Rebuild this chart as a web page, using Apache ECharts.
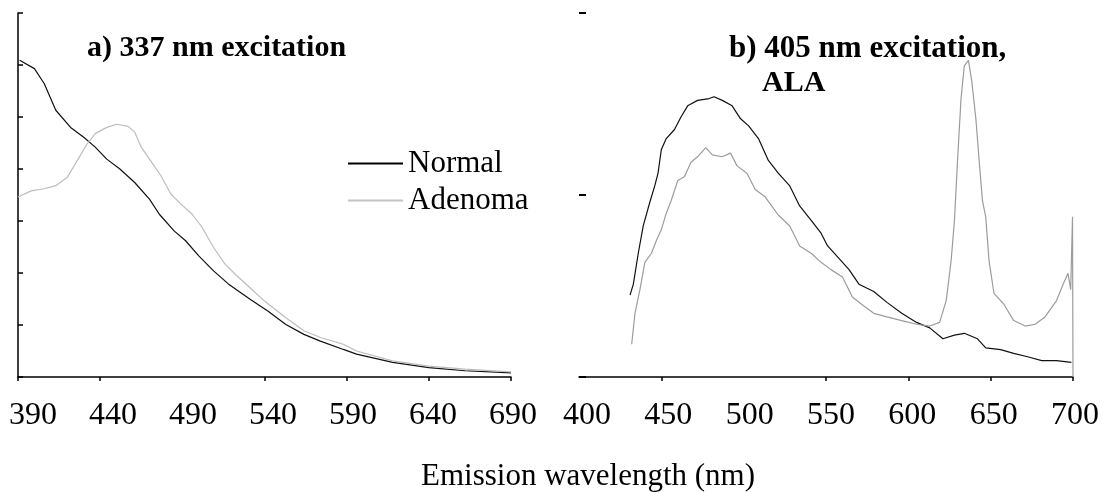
<!DOCTYPE html>
<html>
<head>
<meta charset="utf-8">
<title>Emission spectra</title>
<script src="https://cdn.jsdelivr.net/npm/echarts@6/dist/echarts.min.js"></script>
<style>
  html, body { margin: 0; padding: 0; background: #fff; }
  #boot { width: 1108px; height: 492px; }
</style>
</head>
<body>
<div id="boot"></div>
<script>
// 数据: [波长 nm, 强度]
var normal337 = [
  [391, 6.09], [400, 5.93], [406, 5.64], [413, 5.13], [422, 4.80], [430, 4.61],
  [437, 4.42], [444, 4.19], [452, 4.00], [461, 3.74], [470, 3.42], [476, 3.13],
  [485, 2.81], [492, 2.62], [500, 2.33], [509, 2.04], [518, 1.79], [531, 1.50],
  [542, 1.27], [553, 1.01], [564, 0.82], [574, 0.69], [588, 0.53], [596, 0.44],
  [618, 0.28], [640, 0.18], [662, 0.12], [690, 0.08]
];
var adenoma337 = [
  [390, 3.46], [398, 3.58], [406, 3.62], [413, 3.68], [420, 3.84], [426, 4.16],
  [432, 4.48], [437, 4.68], [444, 4.80], [450, 4.86], [457, 4.82], [461, 4.71],
  [465, 4.42], [472, 4.10], [477, 3.87], [483, 3.52], [489, 3.33], [496, 3.13],
  [502, 2.88], [509, 2.49], [516, 2.17], [522, 1.98], [531, 1.72], [540, 1.46],
  [553, 1.14], [564, 0.89], [574, 0.76], [588, 0.63], [596, 0.50], [618, 0.31],
  [640, 0.21], [662, 0.15], [690, 0.10]
];
var normal405 = [
  [431, 0.45], [433, 0.51], [436, 0.68], [439, 0.83], [443, 0.96], [446, 1.05],
  [448, 1.12], [450, 1.25], [453, 1.31], [458, 1.36], [462, 1.43], [466, 1.49],
  [472, 1.52], [479, 1.53], [482, 1.54], [487, 1.52], [493, 1.49], [498, 1.42],
  [503, 1.38], [509, 1.31], [515, 1.19], [521, 1.12], [528, 1.05], [534, 0.94],
  [541, 0.86], [547, 0.79], [551, 0.72], [558, 0.65], [564, 0.59], [570, 0.51],
  [579, 0.47], [587, 0.41], [596, 0.35], [605, 0.30], [613, 0.27], [621, 0.21],
  [628, 0.23], [634, 0.24], [642, 0.21], [647, 0.16], [656, 0.15], [664, 0.13],
  [673, 0.11], [681, 0.09], [690, 0.09], [699, 0.08]
];
var adenoma405 = [
  [432, 0.18], [434, 0.35], [437, 0.48], [440, 0.63], [444, 0.68], [447, 0.75],
  [450, 0.81], [453, 0.90], [456, 0.97], [460, 1.08], [464, 1.10], [468, 1.18],
  [472, 1.21], [477, 1.26], [481, 1.22], [487, 1.21], [492, 1.23], [496, 1.16],
  [502, 1.12], [507, 1.03], [513, 0.99], [517, 0.94], [521, 0.89], [528, 0.83],
  [534, 0.72], [541, 0.68], [547, 0.63], [553, 0.59], [560, 0.55], [566, 0.44],
  [573, 0.39], [579, 0.35], [587, 0.33], [596, 0.31], [605, 0.29], [613, 0.28],
  [619, 0.30], [623, 0.42], [626, 0.64], [628, 0.86], [630, 1.21], [632, 1.53],
  [634, 1.71], [636.5, 1.74], [638.6, 1.62], [641, 1.42], [643, 1.19], [645, 0.97],
  [647, 0.88], [649, 0.64], [652, 0.46], [658, 0.40], [664, 0.31], [671, 0.28],
  [677, 0.29], [683, 0.33], [690, 0.42], [694, 0.51], [697, 0.57], [698.6, 0.48],
  [699.7, 0.88], [700, 0]
];
// 刻度
var ticksA = [390, 440, 540, 590, 640, 690];
var labelsA = [390, 440, 490, 540, 590, 640, 690];
var ticksB = [450, 550, 600, 650, 700];
var labelsB = [400, 450, 500, 550, 600, 650, 700];

var serif = 'Liberation Serif';
var myChart = echarts.init(document.getElementById('boot'));

function labelAxis(idx, lo, hi, vals) {
  return {
    type: 'value', gridIndex: idx, min: lo, max: hi,
    axisLine: { show: false }, axisTick: { show: false }, splitLine: { show: false },
    axisLabel: { customValues: vals, margin: 23, color: '#000', fontSize: 32, fontFamily: serif }
  };
}

var option = {
  animation: false,
  backgroundColor: '#fff',
  title: [
    { text: 'a) 337 nm excitation', left: 82, top: 28,
      textStyle: { fontFamily: serif, fontSize: 30, fontWeight: 'bold', color: '#000' } },
    { text: 'b) 405 nm excitation,', left: 724, top: 28,
      textStyle: { fontFamily: serif, fontSize: 31, fontWeight: 'bold', color: '#000' } },
    { text: 'ALA', left: 757, top: 63,
      textStyle: { fontFamily: serif, fontSize: 30, fontWeight: 'bold', color: '#000' } },
    { text: 'Emission wavelength (nm)', left: 583, top: 456, textAlign: 'center',
      textStyle: { fontFamily: serif, fontSize: 31, fontWeight: 'normal', color: '#000' } }
  ],
  legend: {
    data: ['Normal', 'Adenoma'],
    orient: 'vertical', left: 343, top: 143,
    itemWidth: 55, itemHeight: 2, itemGap: 6, icon: 'rect',
    textStyle: { fontFamily: serif, fontSize: 31, color: '#000' }
  },
  grid: [
    { left: 18, top: 13, width: 493, height: 364 },
    { left: 579, top: 13, width: 494, height: 364 },
    { left: 33, top: 13, width: 480, height: 364 },
    { left: 587, top: 13, width: 488, height: 364 }
  ],
  xAxis: [
    { type: 'value', gridIndex: 0, min: 390, max: 690,
      axisLine: { lineStyle: { color: '#000', width: 1.5 } },
      axisTick: { customValues: ticksA, length: 4, lineStyle: { color: '#000', width: 1.5 } },
      axisLabel: { show: false }, splitLine: { show: false } },
    { type: 'value', gridIndex: 1, min: 400, max: 700,
      axisLine: { lineStyle: { color: '#000', width: 1.5 } },
      axisTick: { customValues: ticksB, length: 4, lineStyle: { color: '#000', width: 1.5 } },
      axisLabel: { show: false }, splitLine: { show: false } },
    labelAxis(2, 390, 690, labelsA),
    labelAxis(3, 400, 700, labelsB)
  ],
  yAxis: [
    { type: 'value', gridIndex: 0, min: 0, max: 7, interval: 1,
      axisLine: { show: true, lineStyle: { color: '#000', width: 1.5 } },
      axisTick: { show: true, inside: true, length: 5, lineStyle: { color: '#000', width: 1.5 } },
      axisLabel: { show: false }, splitLine: { show: false } },
    { type: 'value', gridIndex: 1, min: 0, max: 2, interval: 1,
      axisLine: { show: false },
      axisTick: { show: true, inside: true, length: 7, lineStyle: { color: '#000', width: 2 } },
      axisLabel: { show: false }, splitLine: { show: false } },
    { type: 'value', gridIndex: 2, show: false },
    { type: 'value', gridIndex: 3, show: false }
  ],
  series: [
    { name: 'Normal', type: 'line', xAxisIndex: 0, yAxisIndex: 0, data: normal337,
      symbol: 'none', color: '#000', lineStyle: { color: '#111', width: 1.2 } },
    { name: 'Adenoma', type: 'line', xAxisIndex: 0, yAxisIndex: 0, data: adenoma337,
      symbol: 'none', color: '#c4c4c4', lineStyle: { color: '#bdbdbd', width: 1.2 } },
    { name: 'Normal', type: 'line', xAxisIndex: 1, yAxisIndex: 1, data: normal405,
      symbol: 'none', color: '#000', lineStyle: { color: '#111', width: 1.2 } },
    { name: 'Adenoma', type: 'line', xAxisIndex: 1, yAxisIndex: 1, data: adenoma405,
      symbol: 'none', color: '#c4c4c4', lineStyle: { color: '#9c9c9c', width: 1.2 } }
  ]
};
myChart.setOption(option);
</script>
</body>
</html>
